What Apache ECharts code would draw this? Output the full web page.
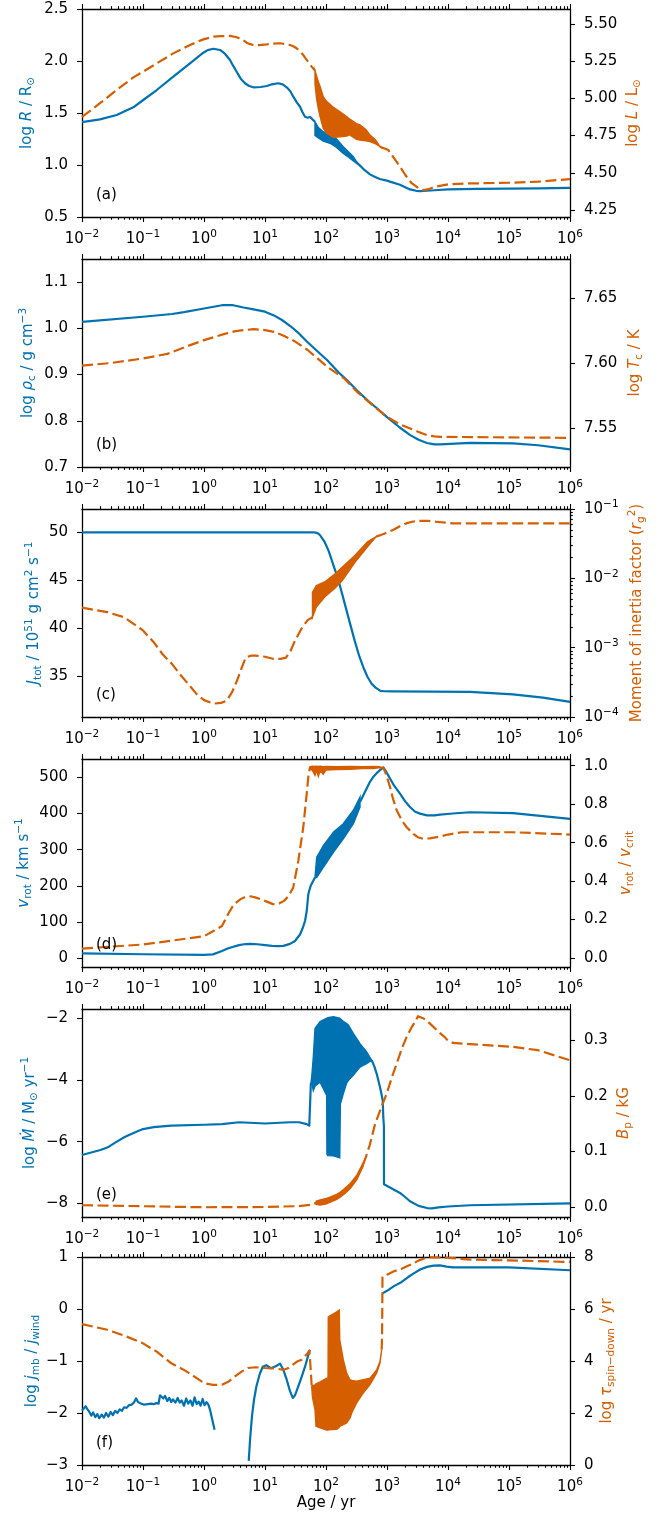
<!DOCTYPE html>
<html><head><meta charset="utf-8">
<script src="https://cdn.jsdelivr.net/npm/echarts@6/dist/echarts.min.js"></script>
<style>html,body{margin:0;padding:0;background:#fff}#c{width:670px;height:1519px}</style>
</head><body><div id="c"></div>
<script>
// ---------------- data (age in yr, value) ----------------
// (a) log R (left) and log L (right)
const aR1 = [[0.01,1.413],[0.0197,1.439],[0.037,1.481],[0.0694,1.555],[0.101,1.625],[0.168,1.721],[0.314,1.849],[0.589,1.978],[0.975,2.08],[1.15,2.105],[1.42,2.118],[1.83,2.106],[2.2,2.07],[2.67,2.01],[3.0,1.955],[3.43,1.897],[4.0,1.83],[4.7,1.786],[5.5,1.76],[6.43,1.747],[8.5,1.75],[10.7,1.76],[13,1.776],[16.5,1.786],[19.5,1.775],[22.7,1.747],[26,1.71],[29.1,1.657],[33,1.605],[37.5,1.56],[41,1.51],[45.3,1.464],[50,1.455],[55,1.462],[58.3,1.464],[61.9,1.43],[66,1.416]];
const aRBand = [[66,1.285,1.416],[75,1.26,1.36],[90,1.23,1.32],[116,1.209,1.285],[141,1.18,1.265],[192,1.112,1.176],[240,1.07,1.12],[281,1.04,1.08],[318,1.016,1.03],[361,0.99,1.0]];
const aR2 = [[361,0.995],[430,0.95],[526,0.91],[640,0.885],[760,0.865],[1000,0.85],[1120,0.84],[1630,0.81],[2380,0.765],[3000,0.752],[3500,0.749],[4000,0.75],[6000,0.757],[1e4,0.765],[3e4,0.77],[1e5,0.772],[3e5,0.775],[1e6,0.78]];
const aL1 = [[0.01,4.875],[0.0197,4.967],[0.037,5.056],[0.0694,5.141],[0.101,5.179],[0.168,5.235],[0.314,5.302],[0.589,5.358],[0.975,5.396],[1.42,5.414],[1.9,5.418],[2.67,5.419],[3.3,5.412],[3.9,5.403],[4.4,5.39],[5.0,5.374],[5.7,5.364],[6.43,5.358],[8,5.358],[10.7,5.363],[13.5,5.368],[17.6,5.37],[21,5.366],[25.7,5.358],[29,5.35],[33,5.336],[37,5.318],[42.4,5.291],[46,5.27],[50,5.25],[58.3,5.213],[66,5.186]];
const aLBand = [[66,5.10,5.186],[70,5.0,5.15],[75,4.93,5.112],[80,4.877,5.08],[90,4.80,5.011],[102,4.765,4.98],[132,4.738,4.94],[170,4.742,4.91],[218,4.747,4.877],[245,4.754,4.86],[316,4.725,4.83],[361,4.72,4.821],[450,4.715,4.79],[526,4.709,4.754],[650,4.695,4.72],[770,4.675,4.675]];
const aL2 = [[770,4.675],[1050,4.653],[1630,4.541],[2000,4.485],[2270,4.455],[2540,4.43],[3200,4.40],[3600,4.388],[4000,4.384],[4800,4.39],[6000,4.405],[1e4,4.422],[2e4,4.428],[1e5,4.433],[3e5,4.44],[1e6,4.458]];
// (b) log rho_c (left) and log T_c (right)
const bRho = [[0.01,1.014],[0.1,1.025],[0.3,1.031],[0.47,1.035],[1,1.043],[1.97,1.05],[3,1.05],[4.46,1.045],[6.5,1.041],[10,1.036],[14,1.028],[19,1.018],[26,1.005],[36,0.989],[50,0.970],[70,0.952],[105,0.931],[160,0.905],[220,0.888],[320,0.866],[500,0.842],[700,0.826],[1000,0.808],[1600,0.786],[2400,0.769],[3300,0.759],[4500,0.752],[6000,0.749],[7400,0.749],[2.3e4,0.752],[1.16e5,0.751],[3e5,0.747],[1e6,0.738]];
const bT = [[0.01,7.598],[0.03,7.6],[0.1,7.6035],[0.25,7.607],[0.47,7.612],[1,7.6176],[1.6,7.6205],[2.34,7.6228],[3.3,7.6245],[4.46,7.6253],[6.5,7.626],[10,7.6253],[14,7.624],[19,7.6215],[30,7.617],[50,7.61],[75,7.603],[105,7.597],[200,7.588],[320,7.578],[600,7.567],[1000,7.5586],[1600,7.553],[2400,7.5496],[3300,7.547],[4500,7.5445],[6000,7.5436],[7400,7.5432],[1e6,7.5424]];
// (c) J_tot (left) and r_g^2 (right, log)
const cJ = [[0.01,50],[63,50],[68,49.97],[74,49.89],[80,49.7],[86,49.4],[95,49.0],[110,48.1],[120,47.4],[135,46.4],[155,45.3],[180,43.8],[210,42.2],[250,40.4],[295,38.7],[350,37.1],[410,35.9],[480,34.9],[560,34.2],[650,33.8],[780,33.45],[900,33.42],[1250,33.4],[2.3e4,33.35],[1.16e5,33.1],[3.6e5,32.75],[1e6,32.3]];
const cI1 = [[0.01,3.77e-3],[0.026,3.25e-3],[0.049,2.75e-3],[0.1,1.77e-3],[0.15,1.2e-3],[0.208,8.1e-4],[0.3,5.8e-4],[0.397,4.2e-4],[0.55,3.0e-4],[0.757,2.14e-4],[1.0,1.75e-4],[1.44,1.56e-4],[1.9,1.6e-4],[2.34,1.71e-4],[2.9,2.3e-4],[3.47,3.33e-4],[4.1,5.0e-4],[4.83,7.2e-4],[6,7.7e-4],[7.12,7.66e-4],[10,7.4e-4],[14,6.87e-4],[18,6.9e-4],[22.1,7.2e-4],[26,8.8e-4],[31,1.26e-3],[40,1.9e-3],[50,2.5e-3],[60,2.75e-3]];
const cIBand = [[60,2.75e-3,6.3e-3],[69.5,3.85e-3,7.9e-3],[95,5.37e-3,8.85e-3],[140,7.2e-3,1.15e-2],[186,9.33e-3,1.46e-2],[300,1.72e-2,2.15e-2],[479,2.84e-2,3.36e-2],[661,3.98e-2,3.98e-2]];
const cI2 = [[661,3.98e-2],[900,4.4e-2],[1253,4.97e-2],[1600,5.6e-2],[2049,6.2e-2],[2700,6.6e-2],[3609,6.76e-2],[4800,6.72e-2],[6357,6.55e-2],[9000,6.35e-2],[12080,6.2e-2],[1e5,6.2e-2],[1e6,6.2e-2]];
// (d) v_rot (left) and v_rot/v_crit (right)
const dV1 = [[0.01,13],[0.1,10.3],[1,8.4],[1.4,10],[1.97,19.5],[2.5,27],[3.75,35.6],[4.5,38],[5.68,39],[7.5,38],[10,35.6],[13,33.5],[16.3,32.8],[20,33.5],[25.7,39],[31,47],[37.5,65],[42,85],[45.3,102.5],[48.3,130],[51.3,177],[56.1,200],[61.9,214],[66,223]];
const dVBand = [[66,223,223],[70.4,223,278.8],[90.4,251,311.4],[132,292.7,348.5],[192,330,371.9],[281,371.9,409],[361,418,446]];
const dV2 = [[361,432],[526,487.8],[600,502],[700,514],[767,520],[871,527.5],[950,518],[1120,497],[1300,478],[1633,455],[2000,433],[2382,418],[2900,405],[3476,399.7],[4529,395],[6000,395],[7391,397],[12000,400],[22930,403.5],[116400,401],[1e6,385]];
const dW1 = [[0.01,0.049],[0.1,0.07],[1,0.113],[1.97,0.166],[2.5,0.23],[3.1,0.28],[4,0.306],[4.83,0.319],[6,0.32],[7.12,0.314],[10,0.297],[13.5,0.28],[17,0.283],[20.5,0.297],[24,0.32],[29,0.366],[35.2,0.506],[42.4,0.68],[48.3,0.855],[51.3,0.942],[54.7,0.992]];
const dWBand = [[54.7,0.985,0.995],[60,0.975,0.997],[66,0.95,0.996],[70,0.975,0.997],[75,0.945,0.996],[80,0.975,0.997],[90,0.955,0.995],[100,0.978,0.996],[150,0.98,0.995],[250,0.982,0.996],[400,0.985,0.995],[600,0.985,0.996],[756,0.99,0.995]];
const dW2 = [[756,0.99],[871,0.99],[940,0.965],[1000,0.94],[1120,0.89],[1250,0.83],[1441,0.768],[1750,0.715],[2102,0.68],[2698,0.646],[3200,0.628],[3891,0.62],[5000,0.622],[7391,0.632],[10000,0.642],[16640,0.654],[116400,0.654],[1e6,0.642]];
// (e) log Mdot (left) and B_p (right)
const eM1 = [[0.01,-6.43],[0.02,-6.27],[0.026,-6.19],[0.035,-6.03],[0.05,-5.85],[0.07,-5.72],[0.1,-5.59],[0.15,-5.53],[0.288,-5.48],[1,-5.45],[1.97,-5.43],[3.75,-5.37],[10,-5.41],[25.7,-5.37],[36.1,-5.37],[48.3,-5.43],[53.2,-5.48],[56.1,-5.48],[56.5,-4.1]];
const eMBand = [[56.5,-4.1,-4.1],[58.3,-4.1,-3.91],[61.9,-4.34,-3.26],[66,-4.2,-2.33],[80,-4.07,-2.11],[102.6,-4.5,-2.0],[103.5,-6.4,-2.0],[106.6,-6.45,-1.98],[132,-6.46,-1.95],[168,-6.52,-2.0],[172,-4.78,-2.02],[192,-4.45,-2.1],[218,-4.1,-2.17],[232,-4.02,-2.22],[280,-3.85,-2.49],[361,-3.58,-2.82],[464,-3.47,-3.09],[561,-3.36,-3.36]];
const eM2 = [[561,-3.36],[620,-3.56],[678,-3.80],[767,-4.23],[820,-4.5],[851,-4.67],[869,-5.2],[890,-5.5],[893,-7.38],[1633,-7.66],[2000,-7.8],[2382,-7.93],[3300,-8.08],[4529,-8.15],[5470,-8.16],[7000,-8.13],[1e4,-8.1],[22930,-8.06],[1e6,-8.0]];
const eB1 = [[0.01,0.0036],[0.1,0.0018],[1,0.0],[10,0.0005],[36,0.002],[60,0.005],[69,0.008]];
const eBBand = [[69,0.005,0.011],[80,0.004,0.013],[102,0.006,0.016],[116,0.009,0.018],[150,0.014,0.023],[170,0.018,0.027],[200,0.024,0.033],[247,0.033,0.042],[318,0.049,0.057],[408,0.074,0.08]];
const eB2 = [[408,0.077],[450,0.09],[526,0.113],[636,0.149],[767,0.173],[988,0.204],[1200,0.233],[1441,0.258],[1750,0.285],[2102,0.306],[2500,0.322],[2877,0.333],[3222,0.343],[3800,0.34],[4400,0.336],[5383,0.327],[7000,0.315],[8735,0.306],[10000,0.299],[12080,0.295],[22930,0.293],[116400,0.288],[298700,0.282],[1e6,0.264]];
// (f) log j_mb/j_wind (left) and log tau_spin-down (right)
const fJ1 = [[0.01,-1.95],[0.0107,-1.92],[0.0115,-1.87],[0.0123,-1.93],[0.0132,-1.98],[0.0142,-2.05],[0.0152,-1.99],[0.0165,-2.08],[0.0178,-2.02],[0.0192,-2.1],[0.021,-2.03],[0.0228,-2.09],[0.0248,-2.0],[0.027,-2.07],[0.0295,-1.98],[0.032,-2.04],[0.035,-1.96],[0.038,-2.0],[0.0415,-1.93],[0.045,-1.96],[0.049,-1.89],[0.054,-1.9],[0.059,-1.85],[0.065,-1.84],[0.071,-1.8],[0.077,-1.72],[0.083,-1.79],[0.093,-1.82],[0.105,-1.84],[0.12,-1.83],[0.135,-1.82],[0.15,-1.83],[0.165,-1.81],[0.18,-1.82],[0.19,-1.66],[0.2,-1.63],[0.215,-1.72],[0.23,-1.67],[0.25,-1.77],[0.27,-1.71],[0.29,-1.79],[0.31,-1.74],[0.34,-1.8],[0.37,-1.71],[0.4,-1.8],[0.43,-1.76],[0.47,-1.86],[0.51,-1.72],[0.55,-1.82],[0.6,-1.76],[0.65,-1.86],[0.7,-1.7],[0.76,-1.83],[0.82,-1.78],[0.88,-1.86],[0.95,-1.73],[1.02,-1.85],[1.1,-1.79],[1.18,-1.84],[1.25,-1.93],[1.35,-2.1],[1.49,-2.32]];
const fJ2 = [[5.41,-2.92],[5.7,-2.5],[6.12,-2.06],[6.6,-1.75],[7.22,-1.49],[8.2,-1.25],[9.2,-1.11],[10.5,-1.08],[12.5,-1.14],[15,-1.1],[17.6,-1.05],[20,-1.17],[22.7,-1.36],[25.7,-1.58],[28.5,-1.71],[31,-1.66],[35.1,-1.49],[40,-1.3],[45.3,-1.11],[50,-0.93],[53.2,-0.82],[54.7,-0.79]];
const fJ3 = [[843,0.30],[1000,0.35],[1300,0.44],[1742,0.52],[2200,0.61],[2700,0.68],[3500,0.76],[4529,0.81],[5800,0.835],[7391,0.84],[9500,0.815],[12080,0.80],[1e5,0.80],[1e6,0.745]];
const fT1 = [[0.01,5.42],[0.026,5.2],[0.05,4.97],[0.1,4.68],[0.17,4.35],[0.288,3.92],[0.5,3.62],[0.75,3.35],[1,3.15],[1.4,3.08],[1.97,3.09],[2.5,3.2],[3.22,3.41],[4.2,3.6],[5.26,3.73],[7,3.76],[10,3.73],[14,3.72],[20.5,3.66],[24.2,3.73],[33.5,3.98],[40,4.05],[50,4.3],[53.2,4.4],[55,4.0],[57,3.4],[58.3,3.02]];
const fTBand = [[58.3,3.02,3.02],[60,2.6,3.05],[66,2.13,3.08],[68.6,1.49,3.12],[80,1.43,3.2],[102.6,1.34,3.34],[108,1.34,3.34],[109,1.35,5.70],[150,1.37,5.89],[165,1.45,5.96],[168,1.49,4.81],[192,1.55,4.05],[218,1.62,3.54],[247,1.8,3.28],[264,2.0,3.25],[318,2.39,3.22],[408,2.77,3.28],[526,3.09,3.34],[678,3.54,3.66],[767,3.92,3.98],[818,4.43,4.43]];
const fT2 = [[818,4.43],[830,5.0],[838,6.2],[843,7.23],[1000,7.32],[1300,7.45],[1742,7.55],[2400,7.7],[3349,7.87],[4529,7.98],[6000,7.99],[1e4,7.97],[2.3e4,7.9],[1e5,7.87],[1e6,7.81]];

// ---------------- ticks ----------------
const X_MAJOR = [0.01, 0.1, 1, 10, 100, 1000, 1e4, 1e5, 1e6];
const X_MINOR = [];
for (let e = -2; e < 6; e++) for (let m = 2; m <= 9; m++) X_MINOR.push(+(m * Math.pow(10, e)).toPrecision(3));
const aLeftTicks = [0.5, 1.0, 1.5, 2.0, 2.5], aRightTicks = [4.25, 4.5, 4.75, 5.0, 5.25, 5.5];
const bLeftTicks = [0.7, 0.8, 0.9, 1.0, 1.1], bRightTicks = [7.55, 7.6, 7.65];
const cLeftTicks = [35, 40, 45, 50], cRightTicks = [1e-4, 1e-3, 1e-2, 1e-1];
const cRightMinor = [];
for (let e = -4; e < -1; e++) for (let m = 2; m <= 9; m++) cRightMinor.push(+(m * Math.pow(10, e)).toPrecision(3));
const dLeftTicks = [0, 100, 200, 300, 400, 500], dRightTicks = [0, 0.2, 0.4, 0.6, 0.8, 1.0];
const eLeftTicks = [-8, -6, -4, -2], eRightTicks = [0, 0.1, 0.2, 0.3];
const fLeftTicks = [-3, -2, -1, 0, 1], fRightTicks = [0, 2, 4, 6, 8];

// ---------------- layout / style ----------------
const BLUE = '#0072B2', ORANGE = '#D55E00', FONT = 'DejaVu Sans', FS = 15;
const TOPS = [9, 259, 509, 759, 1009, 1257];
const GL = 82, GW = 488, GH = 208;
const minus = s => String(s).replace('-', '\u2212');
const expLabel = v => '10{sup|' + minus(Math.round(Math.log10(v))) + '}';
const fixed = n => v => minus(v.toFixed(n));
const tickRich = { sup: { fontSize: 10.5, lineHeight: 10, verticalAlign: 'top', fontFamily: FONT, color: '#000' } };
const nameRich = c => ({
  i: { fontStyle: 'italic', fontSize: FS, fontFamily: FONT, color: c, lineHeight: 20 },
  sub: { fontSize: 10.5, lineHeight: 11, verticalAlign: 'bottom', fontFamily: FONT, color: c },
  sup: { fontSize: 10.5, lineHeight: 11, verticalAlign: 'top', fontFamily: FONT, color: c }
});

const grids = [], xAxes = [], yAxes = [];
TOPS.forEach((top, g) => {
  grids.push({ left: GL, top: top, width: GW, height: GH, containLabel: false, outerBoundsMode: 'none' });
  const base = { type: 'log', logBase: 10, gridIndex: g, min: 0.01, max: 1e6, splitLine: { show: false }, minorTick: { show: false } };
  const line = { onZero: false, lineStyle: { color: '#000', width: 1.3 } };
  const tick = (vals, len) => ({ show: true, length: len, customValues: vals, lineStyle: { color: '#000', width: 1.1 } });
  xAxes.push(Object.assign({}, base, {
    position: 'bottom', axisLine: line, axisTick: tick(X_MAJOR, 5),
    axisLabel: { show: true, customValues: X_MAJOR, formatter: expLabel, margin: 12, fontSize: FS, fontFamily: FONT, color: '#000', lineHeight: 20, rich: tickRich },
    name: g === 5 ? 'Age / yr' : '', nameLocation: 'middle', nameGap: 31, nameMoveOverlap: false,
    nameTextStyle: { fontSize: FS, fontFamily: FONT, color: '#000' }
  }));
  xAxes.push(Object.assign({}, base, { position: 'bottom', axisLine: { show: false, onZero: false }, axisTick: tick(X_MINOR, 2.8), axisLabel: { show: false } }));
  xAxes.push(Object.assign({}, base, { position: 'top', axisLine: line, axisTick: tick(X_MAJOR, 5), axisLabel: { show: false } }));
  xAxes.push(Object.assign({}, base, { position: 'top', axisLine: { show: false, onZero: false }, axisTick: tick(X_MINOR, 2.8), axisLabel: { show: false } }));
});

function yAx(g, pos, range, ticks, fmt, name, color, gap, type) {
  return {
    type: type || 'value', gridIndex: g, position: pos, min: range[0], max: range[1],
    splitLine: { show: false },
    axisLine: { show: true, onZero: false, lineStyle: { color: '#000', width: 1.3 } },
    axisTick: { show: true, length: 5, customValues: ticks, lineStyle: { color: '#000', width: 1.1 } },
    axisLabel: { show: true, customValues: ticks, formatter: fmt, margin: 14, fontSize: FS, fontFamily: FONT, color: '#000', lineHeight: 20, rich: tickRich },
    name: name, nameLocation: 'middle', nameRotate: 90, nameGap: gap, nameMoveOverlap: false,
    nameTextStyle: { fontSize: FS, fontFamily: FONT, color: color, lineHeight: 20, rich: nameRich(color) }
  };
}
yAxes.push(yAx(0, 'left', [0.5, 2.5], aLeftTicks, fixed(1), 'log {i|R} / R{sub|\u2299}', BLUE, 45));
yAxes.push(yAx(0, 'right', [4.203, 5.60], aRightTicks, fixed(2), 'log {i|L} / L{sub|\u2299}', ORANGE, 53));
yAxes.push(yAx(1, 'left', [0.7, 1.15], bLeftTicks, fixed(1), 'log {i|\u03c1}{sub|c} / g cm{sup|\u22123}', BLUE, 44));
yAxes.push(yAx(1, 'right', [7.52, 7.68], bRightTicks, fixed(2), 'log {i|T}{sub|c} / K', ORANGE, 55));
yAxes.push(yAx(2, 'left', [30.73, 52.44], cLeftTicks, v => String(v), '{i|J}{sub|tot} / 10{sup|51} g cm{sup|2} s{sup|\u22121}', BLUE, 38));
yAxes.push(yAx(2, 'right', [1e-4, 1e-1], cRightTicks, expLabel, 'Moment of inertia factor ({i|r}{sub|g}{sup|2})', ORANGE, 57, 'log'));
yAxes.push(yAx(3, 'left', [-25, 551], dLeftTicks, v => String(v), '{i|v}{sub|rot} / km s{sup|\u22121}', BLUE, 48));
yAxes.push(yAx(3, 'right', [-0.047, 1.035], dRightTicks, fixed(1), '{i|v}{sub|rot} / {i|v}{sub|crit}', ORANGE, 46));
yAxes.push(yAx(4, 'left', [-8.44, -1.70], eLeftTicks, v => minus(v), 'log {i|\u1e40} / M{sub|\u2299} yr{sup|\u22121}', BLUE, 42));
yAxes.push(yAx(4, 'right', [-0.0175, 0.356], eRightTicks, fixed(1), '{i|B}{sub|p} / kG', ORANGE, 44));
yAxes.push(yAx(5, 'left', [-3, 1], fLeftTicks, v => minus(v), 'log {i|j\u0307}{sub|mb} / {i|j\u0307}{sub|wind}', BLUE, 40));
yAxes.push(yAx(5, 'right', [0, 8], fRightTicks, v => String(v), 'log {i|\u03c4}{sub|spin\u2212down} / yr', ORANGE, 27));
// minor ticks for the log right axis of panel (c)
yAxes.push({ type: 'log', gridIndex: 2, position: 'right', min: 1e-4, max: 1e-1, splitLine: { show: false },
  axisLine: { show: false, onZero: false }, axisLabel: { show: false },
  axisTick: { show: true, length: 2.8, customValues: cRightMinor, lineStyle: { color: '#000', width: 1.1 } } });

// ---------------- series ----------------
function lineS(g, side, data, color, dashed) {
  return { type: 'line', xAxisIndex: 4 * g, yAxisIndex: 2 * g + side, data: data, symbol: 'none', showSymbol: false,
    smooth: false, silent: true, animation: false, z: dashed ? 4 : 2,
    lineStyle: { color: color, width: 2.2, type: dashed ? [11, 4.5] : 'solid', cap: 'butt', join: 'round' } };
}
function bandS(g, side, tri, color) {
  return { type: 'custom', xAxisIndex: 4 * g, yAxisIndex: 2 * g + side, data: [[tri[0][0], tri[0][1]]],
    silent: true, animation: false, z: side ? 3 : 1,
    renderItem: function (params, api) {
      const up = tri.map(p => api.coord([p[0], p[2]]));
      const lo = tri.slice().reverse().map(p => api.coord([p[0], p[1]]));
      return { type: 'polygon', shape: { points: up.concat(lo) }, style: { fill: color, stroke: color, lineWidth: 1.4 } };
    } };
}
const series = [
  lineS(0, 0, aR1, BLUE), bandS(0, 0, aRBand, BLUE), lineS(0, 0, aR2, BLUE),
  lineS(0, 1, aL1, ORANGE, true), bandS(0, 1, aLBand, ORANGE), lineS(0, 1, aL2, ORANGE, true),
  lineS(1, 0, bRho, BLUE), lineS(1, 1, bT, ORANGE, true),
  lineS(2, 0, cJ, BLUE),
  lineS(2, 1, cI1, ORANGE, true), bandS(2, 1, cIBand, ORANGE), lineS(2, 1, cI2, ORANGE, true),
  lineS(3, 0, dV1, BLUE), bandS(3, 0, dVBand, BLUE), lineS(3, 0, dV2, BLUE),
  lineS(3, 1, dW1, ORANGE, true), bandS(3, 1, dWBand, ORANGE), lineS(3, 1, dW2, ORANGE, true),
  lineS(4, 0, eM1, BLUE), bandS(4, 0, eMBand, BLUE), lineS(4, 0, eM2, BLUE),
  lineS(4, 1, eB1, ORANGE, true), bandS(4, 1, eBBand, ORANGE), lineS(4, 1, eB2, ORANGE, true),
  lineS(5, 0, fJ1, BLUE), lineS(5, 0, fJ2, BLUE), lineS(5, 0, fJ3, BLUE),
  lineS(5, 1, fT1, ORANGE, true), bandS(5, 1, fTBand, ORANGE), lineS(5, 1, fT2, ORANGE, true)
];

const PANEL_LABELS = ['(a)', '(b)', '(c)', '(d)', '(e)', '(f)'];
const graphic = PANEL_LABELS.map((t, g) => ({ type: 'text', left: 96, top: TOPS[g] + 179, z: 100,
  style: { text: t, font: FS + 'px "DejaVu Sans"', fill: '#000' } }));

const chart = echarts.init(document.getElementById('c'), null, { renderer: 'canvas' });
chart.setOption({ animation: false, backgroundColor: '#fff', grid: grids, xAxis: xAxes, yAxis: yAxes, series: series, graphic: graphic });
</script></body></html>
